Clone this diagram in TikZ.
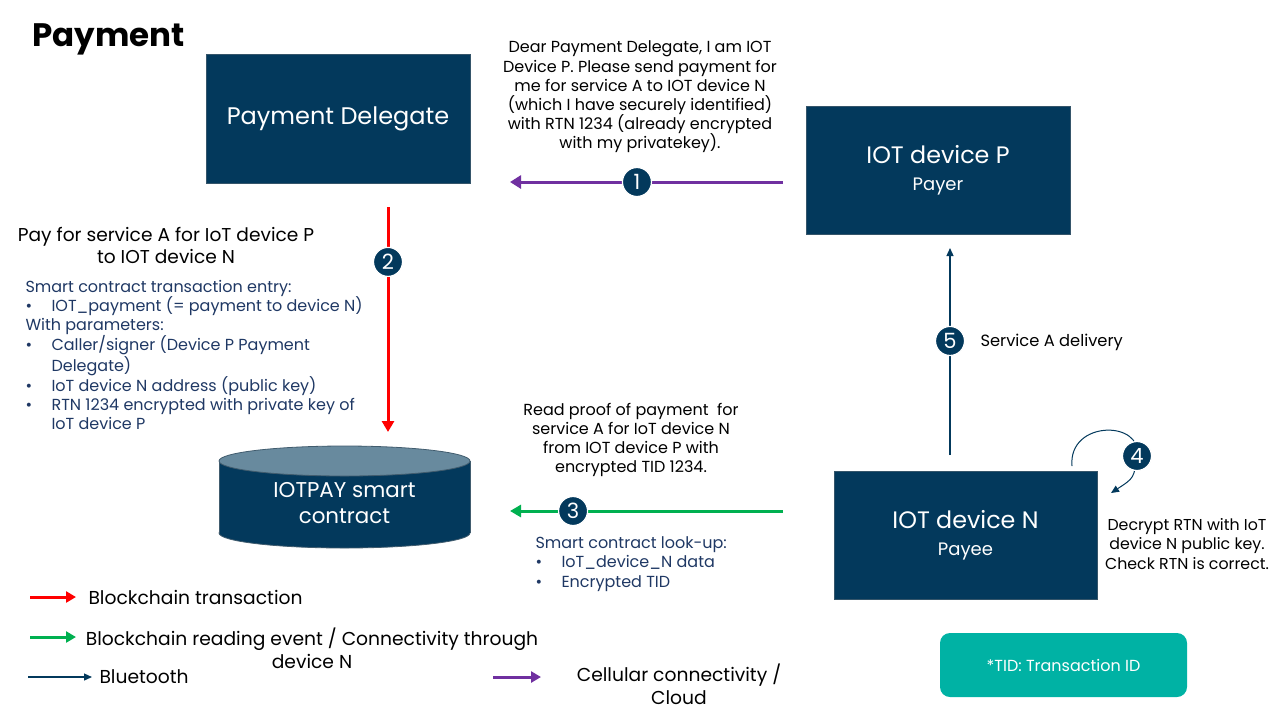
\documentclass[tikz,border=0pt]{standalone}
\usepackage{fontspec}
\setmainfont{Poppins}
\usetikzlibrary{arrows.meta,positioning}
\definecolor{navy}{RGB}{3,57,92}
\definecolor{cyltop}{RGB}{104,138,158}
\definecolor{purp}{RGB}{112,48,160}
\definecolor{grn}{RGB}{0,176,80}
\definecolor{tidbox}{RGB}{0,178,164}
\definecolor{txtblue}{RGB}{31,56,100}
\newcommand{\bul}{\makebox[26pt][l]{\textbullet}}
\newcommand{\ind}{\hspace*{26pt}}

\begin{document}
\begin{tikzpicture}[x=1pt, y=-1pt,
    box/.style={draw=navy!60!gray, line width=0.8pt, fill=navy, text=white, align=center},
    num/.style={circle, fill=navy, draw=white, line width=1.2pt, text=white, inner sep=0pt, minimum size=29pt, font=\fontsize{21}{21}\selectfont},
    lbl/.style={align=center, font=\fontsize{16}{19.2}\selectfont},
    note/.style={align=left, text=txtblue, font=\fontsize{16}{19.2}\selectfont},
    leg/.style={font=\fontsize{18.7}{23}\selectfont, align=center},
    chain/.style={red, line width=3pt, -{Triangle[length=11pt, width=12pt]}},
    reading/.style={grn, line width=3pt, -{Triangle[length=11pt, width=12pt]}},
    cell/.style={purp, line width=3pt, -{Triangle[length=11pt, width=13pt]}},
    bt/.style={navy, line width=1.3pt, -{Triangle[length=8pt, width=7pt]}}]

    \useasboundingbox (0,0) rectangle (1280,716);

    % title
    \node[font=\fontsize{32.5}{32}\selectfont\bfseries, anchor=west] (title) at (29,39) {Payment};

    % actors
    \node[box, minimum width=264pt, minimum height=129pt, font=\fontsize{24}{26}\selectfont] (dlg) at (338,118.5) {Payment Delegate};
    \node[box, minimum width=264pt, minimum height=128pt, font=\fontsize{23.8}{27}\selectfont] (devP) at (938,170) {IOT device P\\{\fontsize{18}{19}\selectfont Payer}};
    \node[box, minimum width=263pt, minimum height=128pt, font=\fontsize{23.8}{27}\selectfont] (devN) at (965.5,535) {IOT device N\\{\fontsize{18}{19}\selectfont Payee}};

    % smart contract cylinder
    \filldraw[fill=navy, draw=navy!50!gray, line width=0.8pt] (344.5,533) ellipse [x radius=125.5, y radius=15];
    \fill[navy] (219,461) rectangle (470,533);
    \draw[navy!50!gray, line width=0.8pt] (219,461) -- (219,533) (470,461) -- (470,533);
    \filldraw[fill=cyltop, draw=navy!50!gray, line width=0.8pt] (344.5,461) ellipse [x radius=125.5, y radius=15];
    \node[text=white, align=center, font=\fontsize{21.4}{26}\selectfont] (contract) at (344.5,503) {IOTPAY smart\\contract};

    % step 1
    \coordinate (s1) at (783,182);
    \coordinate (e1) at (510,182);
    \draw[cell] (s1) -- (e1) node[num, pos=0.535] (n1) {1};
    \node[lbl] (msg1) at (640,97) {Dear Payment Delegate, I am IOT\\Device P. Please send payment for\\me for service A to IOT device N\\(which I have securely identified)\\with RTN 1234 (already encrypted\\with my privatekey).};

    % step 2
    \coordinate (s2) at (388,207);
    \coordinate (e2) at (388,432);
    \draw[chain] (s2) -- (e2) node[num, pos=0.244] (n2) {2};
    \node[lbl, font=\fontsize{18.6}{22}\selectfont] (pay) at (166,245) {Pay for service A for IoT device P\\to IOT device N};
    \node[note, anchor=west] (entry) at (22,355) {Smart contract transaction entry:\\
        \bul IOT\_payment (= payment to device N)\\
        With parameters:\\
        \bul Caller/signer (Device P Payment\\
        \ind Delegate)\\
        \bul IoT device N address (public key)\\
        \bul RTN 1234 encrypted with private key of\\
        \ind IoT device P};

    % step 3
    \coordinate (s3) at (783,511);
    \coordinate (e3) at (510,511);
    \draw[reading] (s3) -- (e3) node[num, pos=0.769] (n3) {3};
    \node[lbl] (proof) at (631,440) {Read proof of payment\ \ for\\service A for IoT device N\\from IOT device P with\\encrypted TID 1234.};
    \node[note, anchor=west] (lookup) at (532,564) {Smart contract look-up:\\
        \bul IoT\_device\_N data\\
        \bul Encrypted TID};

    % step 4
    \coordinate (s4) at (1072,466);
    \coordinate (c4) at (1137,456);
    \coordinate (e4) at (1111,493);
    \draw[bt, line width=1pt] (s4) .. controls (1068,420) and (1143,420) .. (c4) .. controls (1134,478) .. (e4);
    \node[num] (n4) at (c4) {4};
    \node[lbl, font=\fontsize{15.8}{19.2}\selectfont] (check) at (1187,544) {Decrypt RTN with IoT\\device N public key.\\Check RTN is correct.};

    % step 5
    \coordinate (s5) at (950,455);
    \coordinate (e5) at (950,248);
    \draw[bt] (s5) -- (e5) node[num, pos=0.551] (n5) {5};
    \node[lbl, font=\fontsize{16.3}{19}\selectfont, anchor=west] (deliv) at (977,342) {Service A delivery};

    % TID note
    \node[fill=tidbox, rounded corners=10pt, minimum width=247pt, minimum height=64pt, text=white, font=\fontsize{16}{18}\selectfont] (tid) at (1063.5,665) {*TID: Transaction ID};

    % legend
    \coordinate (la) at (30,597);  \coordinate (lb) at (76,597);
    \draw[chain, -{Triangle[length=10pt, width=11pt]}] (la) -- (lb);
    \node[leg, anchor=west] (legchain) at (85,597) {Blockchain transaction};
    \coordinate (lc) at (30,637);  \coordinate (ld) at (76,637);
    \draw[reading, -{Triangle[length=10pt, width=11pt]}] (lc) -- (ld);
    \node[leg] (legread) at (312,648) {Blockchain reading event / Connectivity through\\device N};
    \coordinate (le) at (28,677);  \coordinate (lf) at (92,677);
    \draw[bt] (le) -- (lf);
    \node[leg, anchor=west] (legbt) at (96,677) {Bluetooth};
    \coordinate (lg) at (493,677); \coordinate (lh) at (541,677);
    \draw[cell, -{Triangle[length=10pt, width=11pt]}] (lg) -- (lh);
    \node[leg] (legcell) at (679,684) {Cellular connectivity /\\Cloud};

\end{tikzpicture}
\end{document}
